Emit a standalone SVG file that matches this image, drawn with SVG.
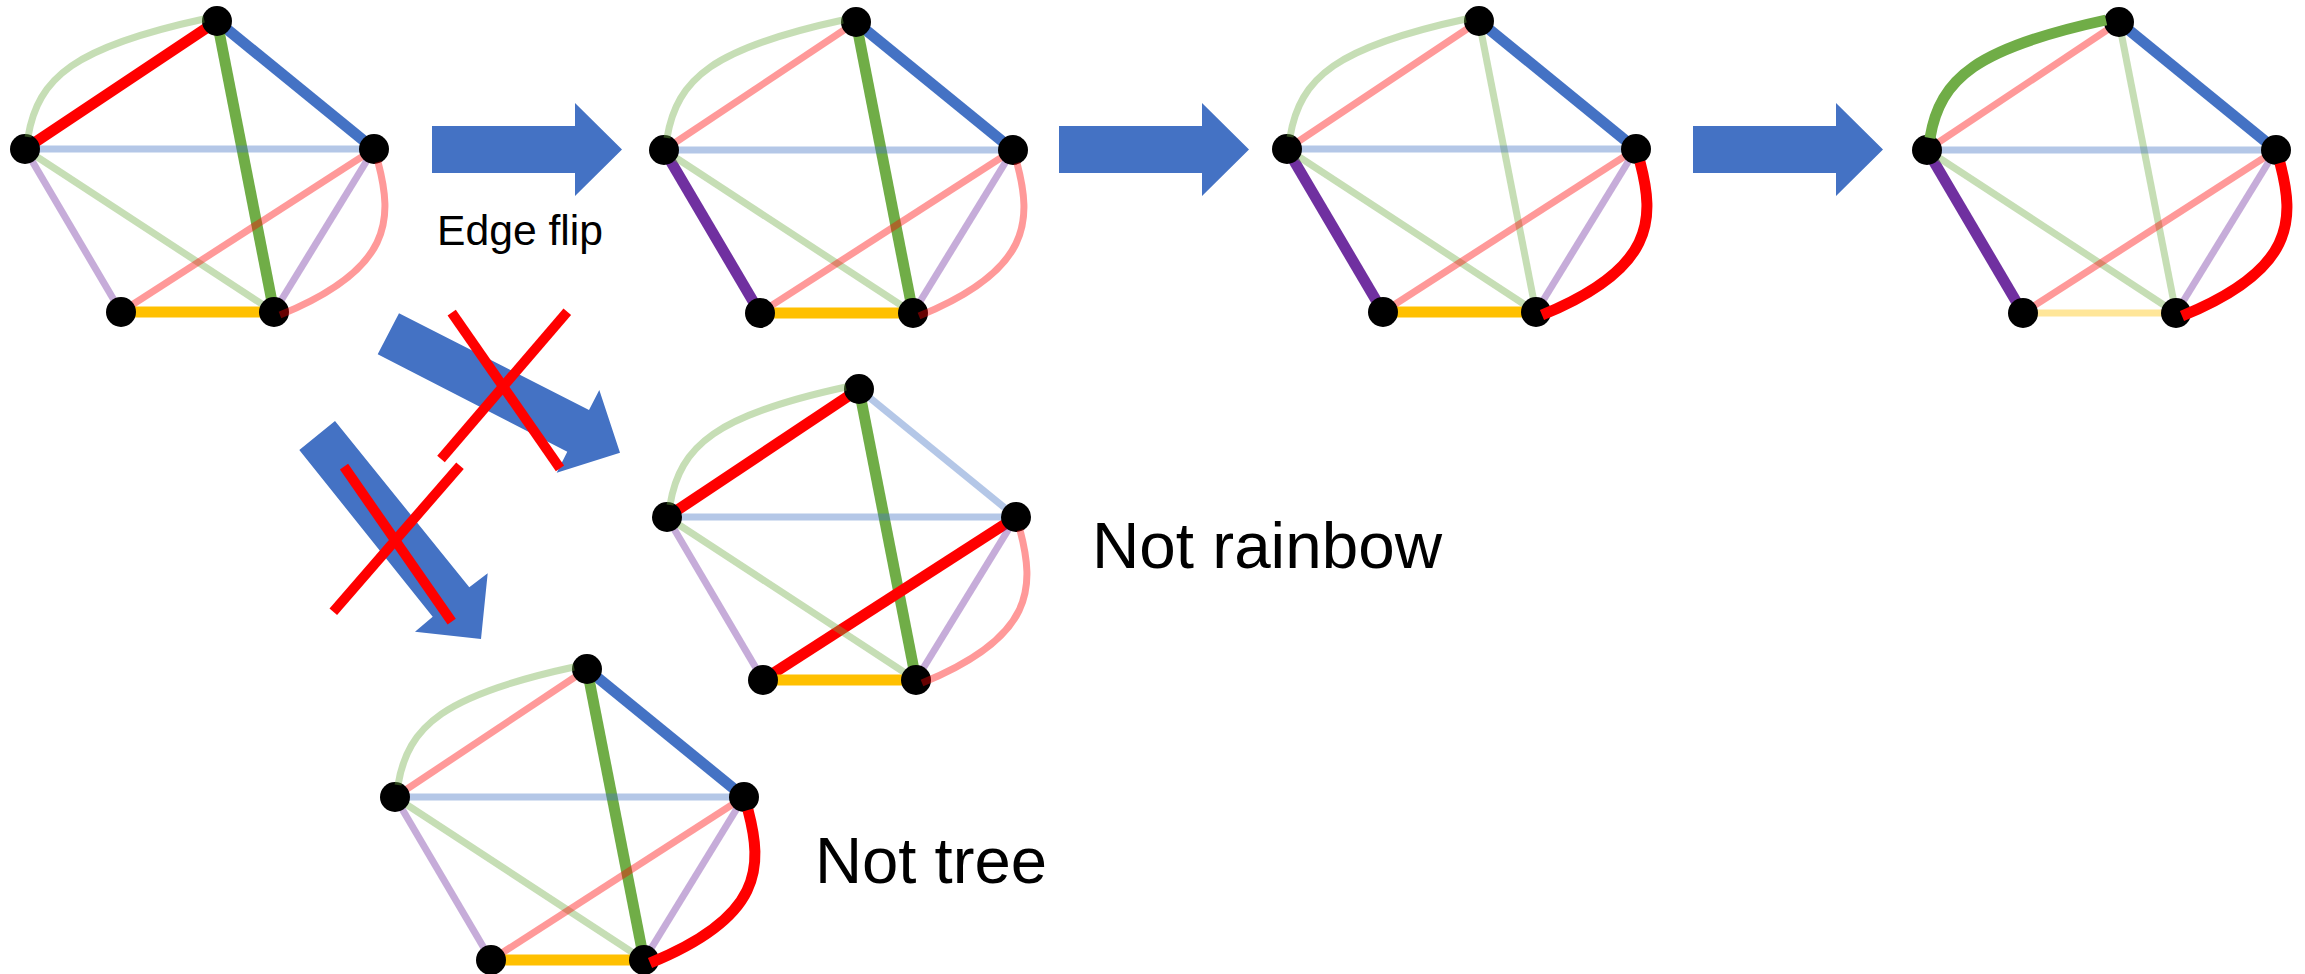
<svg xmlns="http://www.w3.org/2000/svg" width="2305" height="974" viewBox="0 0 2305 974">
<style>
.e{fill:none;stroke-linecap:butt}
.on{stroke-width:11}
.off{stroke-width:7;stroke-opacity:0.4}
.r{stroke:#FF0000}.b{stroke:#4472C4}.g{stroke:#70AD47}.p{stroke:#7030A0}.y{stroke:#FFC000}
.n{fill:#000}
.arrow{fill:#4472C4}
.x{stroke:#FF0000;stroke-width:10;stroke-linecap:butt}
.t{font-family:"Liberation Sans",Arial,sans-serif;fill:#000}
</style>
<rect width="2305" height="974" fill="#fff"/>

<g id="connectors">
  <path class="arrow" d="M432 126 H575 V103 L622 149.5 L575 196 V173 H432 Z"/>
  <path class="arrow" d="M1059 126 H1202 V103 L1249 149.5 L1202 196 V173 H1059 Z"/>
  <path class="arrow" d="M1693 126 H1836 V103 L1883 149.5 L1836 196 V173 H1693 Z"/>
  <polygon class="arrow" points="399,313.3 589,410 599.3,390 620,452.7 556.7,472.7 567.3,451.7 377.7,354.3"/>
  <polygon class="arrow" points="335,421 469.3,587.3 487.7,573.3 481,639 415,631.7 432.7,616.7 299.3,450"/>
  <line class="x" x1="451.7" y1="312.7" x2="560" y2="468.3"/>
  <line class="x" x1="567.3" y1="311.7" x2="441" y2="459"/>
  <line class="x" x1="344" y1="466.7" x2="451.7" y2="621.7"/>
  <line class="x" x1="460" y1="465.7" x2="333.3" y2="611.7"/>
</g>

<text class="t" x="437" y="245" font-size="42" textLength="166" lengthAdjust="spacingAndGlyphs">Edge flip</text>
<text class="t" x="1092" y="568" font-size="64" textLength="350" lengthAdjust="spacingAndGlyphs">Not rainbow</text>
<text class="t" x="815" y="883" font-size="64" textLength="232" lengthAdjust="spacingAndGlyphs">Not tree</text>

<!-- Graph 1 -->
<g id="graph1" transform="translate(25,149)">
  <line class="e on r" x1="0" y1="0" x2="192" y2="-128"/>
  <line class="e on b" x1="192" y1="-128" x2="349" y2="0"/>
  <line class="e on g" x1="192" y1="-128" x2="249" y2="163"/>
  <line class="e on y" x1="96" y1="163" x2="249" y2="163"/>
  <line class="e off b" x1="0" y1="0" x2="349" y2="0"/>
  <line class="e off p" x1="0" y1="0" x2="96" y2="163"/>
  <line class="e off g" x1="0" y1="0" x2="249" y2="163"/>
  <line class="e off r" x1="349" y1="0" x2="96" y2="163"/>
  <line class="e off p" x1="349" y1="0" x2="249" y2="163"/>
  <circle id="g1-L" class="n" cx="0" cy="0" r="15"/>
  <circle id="g1-T" class="n" cx="192" cy="-128" r="15"/>
  <circle id="g1-R" class="n" cx="349" cy="0" r="15"/>
  <circle id="g1-BL" class="n" cx="96" cy="163" r="15"/>
  <circle id="g1-BR" class="n" cx="249" cy="163" r="15"/>
  <path class="e off g" d="M3 -12 C13 -72 50 -102 179 -130"/>
  <path class="e off r" d="M353 13 C368 70 368 120 255 166"/>
</g>

<!-- Graph 2 -->
<g id="graph2" transform="translate(664,150)">
  <line class="e on b" x1="192" y1="-128" x2="349" y2="0"/>
  <line class="e on g" x1="192" y1="-128" x2="249" y2="163"/>
  <line class="e on p" x1="0" y1="0" x2="96" y2="163"/>
  <line class="e on y" x1="96" y1="163" x2="249" y2="163"/>
  <line class="e off r" x1="0" y1="0" x2="192" y2="-128"/>
  <line class="e off b" x1="0" y1="0" x2="349" y2="0"/>
  <line class="e off g" x1="0" y1="0" x2="249" y2="163"/>
  <line class="e off r" x1="349" y1="0" x2="96" y2="163"/>
  <line class="e off p" x1="349" y1="0" x2="249" y2="163"/>
  <circle id="g2-L" class="n" cx="0" cy="0" r="15"/>
  <circle id="g2-T" class="n" cx="192" cy="-128" r="15"/>
  <circle id="g2-R" class="n" cx="349" cy="0" r="15"/>
  <circle id="g2-BL" class="n" cx="96" cy="163" r="15"/>
  <circle id="g2-BR" class="n" cx="249" cy="163" r="15"/>
  <path class="e off g" d="M3 -12 C13 -72 50 -102 179 -130"/>
  <path class="e off r" d="M353 13 C368 70 368 120 255 166"/>
</g>

<!-- Graph 3 -->
<g id="graph3" transform="translate(1287,149)">
  <line class="e on b" x1="192" y1="-128" x2="349" y2="0"/>
  <line class="e on p" x1="0" y1="0" x2="96" y2="163"/>
  <line class="e on y" x1="96" y1="163" x2="249" y2="163"/>
  <line class="e off r" x1="0" y1="0" x2="192" y2="-128"/>
  <line class="e off g" x1="192" y1="-128" x2="249" y2="163"/>
  <line class="e off b" x1="0" y1="0" x2="349" y2="0"/>
  <line class="e off g" x1="0" y1="0" x2="249" y2="163"/>
  <line class="e off r" x1="349" y1="0" x2="96" y2="163"/>
  <line class="e off p" x1="349" y1="0" x2="249" y2="163"/>
  <circle id="g3-L" class="n" cx="0" cy="0" r="15"/>
  <circle id="g3-T" class="n" cx="192" cy="-128" r="15"/>
  <circle id="g3-R" class="n" cx="349" cy="0" r="15"/>
  <circle id="g3-BL" class="n" cx="96" cy="163" r="15"/>
  <circle id="g3-BR" class="n" cx="249" cy="163" r="15"/>
  <path class="e off g" d="M3 -12 C13 -72 50 -102 179 -130"/>
  <path class="e on r" d="M353 13 C368 70 368 120 255 166"/>
</g>

<!-- Graph 4 -->
<g id="graph4" transform="translate(1927,150)">
  <line class="e on b" x1="192" y1="-128" x2="349" y2="0"/>
  <line class="e on p" x1="0" y1="0" x2="96" y2="163"/>
  <line class="e off r" x1="0" y1="0" x2="192" y2="-128"/>
  <line class="e off g" x1="192" y1="-128" x2="249" y2="163"/>
  <line class="e off b" x1="0" y1="0" x2="349" y2="0"/>
  <line class="e off g" x1="0" y1="0" x2="249" y2="163"/>
  <line class="e off r" x1="349" y1="0" x2="96" y2="163"/>
  <line class="e off p" x1="349" y1="0" x2="249" y2="163"/>
  <line class="e off y" x1="96" y1="163" x2="249" y2="163"/>
  <circle id="g4-L" class="n" cx="0" cy="0" r="15"/>
  <circle id="g4-T" class="n" cx="192" cy="-128" r="15"/>
  <circle id="g4-R" class="n" cx="349" cy="0" r="15"/>
  <circle id="g4-BL" class="n" cx="96" cy="163" r="15"/>
  <circle id="g4-BR" class="n" cx="249" cy="163" r="15"/>
  <path class="e on g" d="M3 -12 C13 -72 50 -102 179 -130"/>
  <path class="e on r" d="M353 13 C368 70 368 120 255 166"/>
</g>

<!-- Graph 5: Not rainbow -->
<g id="graph5" transform="translate(667,517)">
  <line class="e on r" x1="0" y1="0" x2="192" y2="-128"/>
  <line class="e on g" x1="192" y1="-128" x2="249" y2="163"/>
  <line class="e on r" x1="349" y1="0" x2="96" y2="163"/>
  <line class="e on y" x1="96" y1="163" x2="249" y2="163"/>
  <line class="e off b" x1="192" y1="-128" x2="349" y2="0"/>
  <line class="e off b" x1="0" y1="0" x2="349" y2="0"/>
  <line class="e off p" x1="0" y1="0" x2="96" y2="163"/>
  <line class="e off g" x1="0" y1="0" x2="249" y2="163"/>
  <line class="e off p" x1="349" y1="0" x2="249" y2="163"/>
  <circle id="g5-L" class="n" cx="0" cy="0" r="15"/>
  <circle id="g5-T" class="n" cx="192" cy="-128" r="15"/>
  <circle id="g5-R" class="n" cx="349" cy="0" r="15"/>
  <circle id="g5-BL" class="n" cx="96" cy="163" r="15"/>
  <circle id="g5-BR" class="n" cx="249" cy="163" r="15"/>
  <path class="e off g" d="M3 -12 C13 -72 50 -102 179 -130"/>
  <path class="e off r" d="M353 13 C368 70 368 120 255 166"/>
</g>

<!-- Graph 6: Not tree -->
<g id="graph6" transform="translate(395,797)">
  <line class="e on b" x1="192" y1="-128" x2="349" y2="0"/>
  <line class="e on g" x1="192" y1="-128" x2="249" y2="163"/>
  <line class="e on y" x1="96" y1="163" x2="249" y2="163"/>
  <line class="e off r" x1="0" y1="0" x2="192" y2="-128"/>
  <line class="e off b" x1="0" y1="0" x2="349" y2="0"/>
  <line class="e off p" x1="0" y1="0" x2="96" y2="163"/>
  <line class="e off g" x1="0" y1="0" x2="249" y2="163"/>
  <line class="e off r" x1="349" y1="0" x2="96" y2="163"/>
  <line class="e off p" x1="349" y1="0" x2="249" y2="163"/>
  <circle id="g6-L" class="n" cx="0" cy="0" r="15"/>
  <circle id="g6-T" class="n" cx="192" cy="-128" r="15"/>
  <circle id="g6-R" class="n" cx="349" cy="0" r="15"/>
  <circle id="g6-BL" class="n" cx="96" cy="163" r="15"/>
  <circle id="g6-BR" class="n" cx="249" cy="163" r="15"/>
  <path class="e off g" d="M3 -12 C13 -72 50 -102 179 -130"/>
  <path class="e on r" d="M353 13 C368 70 368 120 255 166"/>
</g>
</svg>
